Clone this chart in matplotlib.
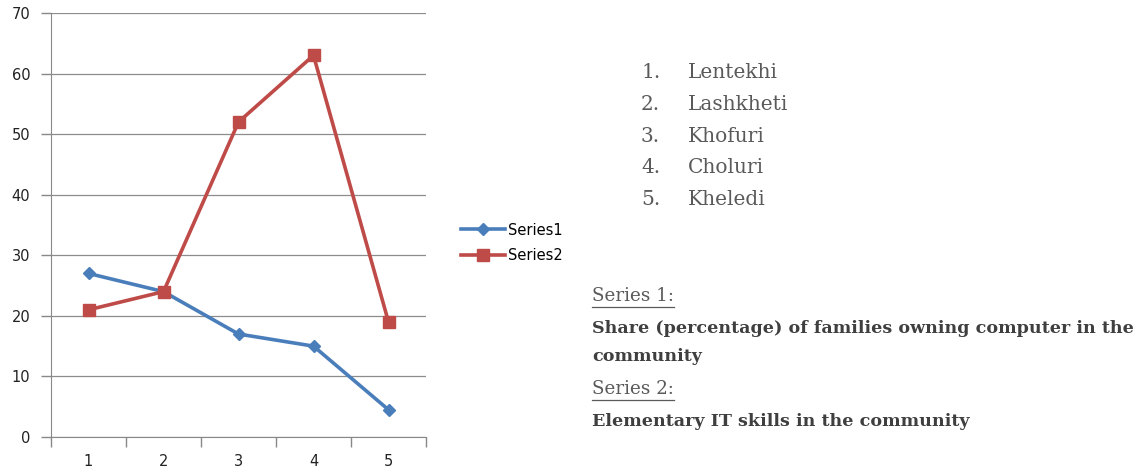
import matplotlib
matplotlib.use("Agg")
import matplotlib.pyplot as plt
from matplotlib.lines import Line2D

categories = [1, 2, 3, 4, 5]
series1 = [27, 24, 17, 15, 4.5]
series2 = [21, 24, 52, 63, 19]
series_names = ["Series1", "Series2"]
places = ["Lentekhi", "Lashkheti", "Khofuri", "Choluri", "Kheledi"]
series1_desc = "Share (percentage) of families owning computer in the\ncommunity"
series2_desc = "Elementary IT skills in the community"

W, H = 1145, 473
fig = plt.figure(figsize=(W / 100, H / 100), dpi=100)
ax = fig.add_axes([51 / W, 1 - 437 / H, (426 - 51) / W, (437 - 13) / H])

blue = "#4A7EBB"
red = "#BE4B48"
ax.plot(categories, series1, color=blue, lw=2.6, marker="D", ms=6.5, label=series_names[0], zorder=3)
ax.plot(categories, series2, color=red, lw=2.6, marker="s", ms=9, label=series_names[1], zorder=3)

ax.set_xlim(0.5, 5.5)
ax.set_ylim(0, 70)
ax.set_yticks(range(0, 71, 10))
ax.set_xticks([0.5 + i for i in range(6)])
ax.set_xticklabels([])
ax.set_xticks(categories, minor=True)
ax.set_xticklabels([str(c) for c in categories], minor=True)
ax.tick_params(axis="x", which="minor", length=0, pad=12, labelsize=10.5, labelcolor="#222222")
ax.tick_params(axis="x", which="major", length=7, color="#888888", width=1)
ax.tick_params(axis="y", length=7, color="#888888", width=1, pad=8, labelsize=10.5, labelcolor="#222222")
ax.grid(axis="y", color="#8C8C8C", lw=0.9)
ax.set_axisbelow(True)
for s in ["top", "right"]:
    ax.spines[s].set_visible(False)
ax.spines["left"].set_color("#888888")
ax.spines["bottom"].set_color("#888888")

leg = fig.legend(loc="center left", bbox_to_anchor=(448 / W, 1 - 243 / H), frameon=False,
                 fontsize=10.5, handlelength=3.0, handletextpad=0.2, labelspacing=0.75)

serif = ["DejaVu Serif"]
gray = "#5A5A5A"
for i, name in enumerate(places):
    y = 1 - (73 + i * 31.6) / H
    fig.text(641 / W, y, f"{i + 1}.", fontsize=14.5, family=serif, color=gray, va="center")
    fig.text(688 / W, y, name, fontsize=14.5, family=serif, color=gray, va="center")

dark = "#3F3F3F"
t1 = fig.text(592 / W, 1 - 296 / H, "Series 1:", fontsize=13.2, family=serif, color=gray, va="center")
fig.text(592 / W, 1 - 342.5 / H, series1_desc, fontsize=12.6, family=serif, color=dark,
         weight="bold", va="center", linespacing=1.85)
t2 = fig.text(592 / W, 1 - 389 / H, "Series 2:", fontsize=13.2, family=serif, color=gray, va="center")
fig.text(592 / W, 1 - 421 / H, series2_desc, fontsize=12.6, family=serif, color=dark,
         weight="bold", va="center")

fig.canvas.draw()
r = fig.canvas.get_renderer()
for t, yy in [(t1, 307), (t2, 400)]:
    bb = t.get_window_extent(r)
    fig.add_artist(Line2D([bb.x0 / W, bb.x1 / W], [1 - yy / H, 1 - yy / H],
                          color=gray, lw=0.9, transform=fig.transFigure))

fig.savefig("out.png", dpi=100)
